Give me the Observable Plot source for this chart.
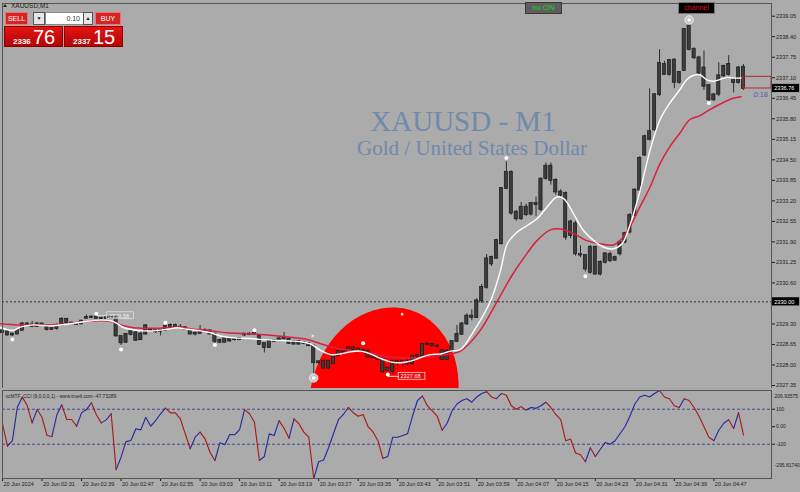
<!DOCTYPE html>
<html><head><meta charset="utf-8">
<script src="https://cdn.jsdelivr.net/npm/d3@7"></script>
<script src="https://cdn.jsdelivr.net/npm/@observablehq/plot@0.6"></script>
<style>
html,body{margin:0;padding:0}
body{width:800px;height:492px;background:#ababab;position:relative;overflow:hidden;font-family:'Liberation Sans',Arial,sans-serif}
#main{position:absolute;left:0;top:0;z-index:1}
#cci{position:absolute;left:0;top:388px;z-index:1}
#main svg,#cci svg{overflow:hidden !important;background:transparent !important}
.ttl{position:absolute;z-index:0;font-family:'Liberation Serif','DejaVu Serif',serif;color:#6f8aab;text-align:center;white-space:nowrap;line-height:1}
.w{position:absolute;z-index:3;box-sizing:border-box;font-family:'Liberation Sans',Arial,sans-serif;white-space:nowrap}
.hd{background:#d42424;border:1px solid #ee7272;color:#fff;font-size:7px;text-align:center;line-height:11px}
.arr{background:#e6e6e6;border:1px solid #555;font-size:5px;text-align:center;line-height:11px;color:#111}
.inp{background:#fff;border:1px solid #888;font-size:7px;text-align:right;line-height:11px;padding-right:3px;color:#333}
.blk{background:linear-gradient(#e41414,#b40404);border:1px solid #8a0000;color:#fff}
.blk .sm{position:absolute;left:8px;top:11px;font-size:8px;line-height:8px;font-weight:bold}
.blk .bg{position:absolute;left:28px;top:0;font-size:20px;line-height:21px}
#sym{position:absolute;left:11px;top:2px;font-size:6.5px;color:#222;z-index:3}
#tri{position:absolute;left:3px;top:4px;width:0;height:0;border-left:2.5px solid transparent;border-right:2.5px solid transparent;border-bottom:3.5px solid #222;z-index:3}
.btn{position:absolute;z-index:3;box-sizing:border-box;text-align:center;line-height:10px}
</style></head><body>
<div class="ttl" style="left:263px;top:107px;width:400px;font-size:29px;height:29px">XAUUSD - M1</div>
<div class="ttl" style="left:272px;top:138px;width:400px;font-size:21px;height:21px">Gold / United States Dollar</div>
<div id="main"></div>
<div id="cci"></div>
<div id="tri"></div><div id="sym">XAUUSD,M1</div>
<div class="w hd" style="left:5px;top:12px;width:23px;height:13px">SELL</div>
<div class="w arr" style="left:33px;top:12px;width:12px;height:13px">&#9660;</div>
<div class="w inp" style="left:45px;top:12px;width:39px;height:13px">0.10</div>
<div class="w arr" style="left:83px;top:12px;width:10px;height:13px">&#9650;</div>
<div class="w hd" style="left:95px;top:12px;width:26px;height:13px">BUY</div>
<div class="w blk" style="left:4px;top:26px;width:59px;height:21px"><span class="sm">2336</span><span class="bg">76</span></div>
<div class="w blk" style="left:64px;top:26px;width:59px;height:21px"><span class="sm">2337</span><span class="bg">15</span></div>
<div class="btn" style="left:525px;top:2px;width:37px;height:12px;background:#5e5e5e;border:1px solid #3a3a3a;color:#22cc22;font-size:8px">xu ON</div>
<div class="btn" style="left:678px;top:2px;width:37px;height:12px;background:#000;border:1px solid #777;color:#d41010;font-size:7px">channel</div>
<script>
// ---------- data ----------
const opens = [2329.08,2329.05,2328.95,2328.98,2329.10,2329.30,2329.27,2329.22,2329.30,2329.18,2329.12,2329.15,2329.26,2329.45,2329.33,2329.30,2329.30,2329.48,2329.50,2329.52,2329.48,2329.47,2329.50,2329.50,2328.90,2328.72,2328.97,2329.02,2328.80,2328.98,2329.10,2329.08,2329.07,2329.10,2329.22,2329.25,2329.20,2329.18,2329.10,2328.98,2329.00,2329.10,2329.08,2328.98,2328.78,2328.72,2328.83,2328.80,2328.80,2328.95,2328.98,2328.98,2328.90,2328.68,2328.55,2328.75,2328.78,2328.83,2328.82,2328.75,2328.66,2328.72,2328.68,2328.60,2328.10,2328.12,2327.90,2328.05,2328.30,2328.42,2328.45,2328.54,2328.50,2328.44,2328.44,2328.25,2328.22,2328.18,2327.90,2327.80,2328.10,2328.07,2328.10,2328.05,2328.28,2328.30,2328.65,2328.65,2328.60,2328.45,2328.18,2328.44,2328.74,2328.97,2329.30,2329.55,2329.50,2330.03,2330.46,2331.20,2331.38,2331.84,2333.59,2334.10,2332.84,2332.63,2333.00,2332.78,2333.11,2332.92,2333.91,2334.30,2333.85,2333.48,2333.43,2332.10,2332.47,2331.50,2331.47,2330.93,2331.73,2330.88,2331.25,2331.50,2331.32,2331.52,2331.89,2332.21,2332.74,2333.54,2334.65,2335.15,2335.45,2336.56,2337.52,2337.20,2337.66,2336.95,2337.33,2338.74,2337.99,2337.73,2337.41,2336.85,2336.40,2336.58,2337.16,2337.20,2337.04,2336.95,2337.43];
const highs = [2329.12,2329.08,2329.00,2329.12,2329.35,2329.35,2329.38,2329.35,2329.32,2329.22,2329.18,2329.30,2329.50,2329.47,2329.35,2329.33,2329.42,2329.58,2329.55,2329.58,2329.52,2329.52,2329.53,2329.55,2328.92,2329.00,2329.10,2329.05,2329.05,2329.28,2329.14,2329.12,2329.12,2329.30,2329.30,2329.30,2329.28,2329.20,2329.12,2329.05,2329.25,2329.14,2329.10,2329.00,2328.82,2328.85,2328.88,2328.84,2328.86,2329.00,2329.02,2329.05,2328.92,2328.70,2328.78,2328.80,2328.85,2329.03,2328.84,2328.78,2328.78,2328.74,2328.70,2328.62,2328.13,2328.14,2328.14,2328.33,2328.45,2328.48,2328.58,2328.58,2328.56,2328.50,2328.46,2328.35,2328.26,2328.20,2327.93,2328.10,2328.14,2328.12,2328.18,2328.30,2328.35,2328.68,2328.72,2328.68,2328.64,2328.48,2328.48,2328.75,2329.25,2329.35,2329.62,2329.75,2330.10,2330.55,2331.50,2331.45,2331.98,2333.62,2334.44,2334.15,2332.90,2333.15,2333.10,2333.15,2333.32,2333.92,2334.40,2334.40,2333.90,2333.55,2333.48,2332.58,2332.55,2331.78,2331.50,2331.78,2331.76,2331.30,2331.55,2331.58,2331.45,2331.89,2332.20,2332.80,2333.59,2334.60,2335.28,2336.75,2336.60,2337.99,2337.62,2337.68,2337.70,2337.30,2338.63,2338.80,2338.05,2337.78,2337.95,2336.88,2336.58,2337.58,2337.50,2337.80,2337.10,2337.46,2337.52];
const lows = [2328.98,2328.92,2328.90,2328.95,2329.08,2329.22,2329.18,2329.20,2329.22,2329.08,2329.10,2329.10,2329.24,2329.30,2329.28,2329.26,2329.28,2329.46,2329.47,2329.45,2329.44,2329.45,2329.46,2328.88,2328.62,2328.68,2328.92,2328.75,2328.78,2328.95,2329.05,2329.00,2328.92,2329.08,2329.18,2329.18,2329.15,2329.10,2328.95,2328.92,2328.98,2329.05,2328.95,2328.68,2328.68,2328.70,2328.72,2328.76,2328.78,2328.90,2328.93,2328.95,2328.62,2328.38,2328.53,2328.72,2328.75,2328.80,2328.65,2328.64,2328.64,2328.64,2328.58,2327.70,2328.03,2327.85,2327.85,2328.02,2328.28,2328.38,2328.43,2328.46,2328.40,2328.40,2328.22,2328.20,2328.14,2327.75,2327.78,2327.70,2327.95,2327.95,2327.95,2328.00,2328.25,2328.28,2328.60,2328.58,2328.55,2328.15,2328.15,2328.42,2328.72,2328.95,2329.25,2329.40,2329.48,2329.95,2330.40,2331.12,2331.35,2331.80,2333.55,2332.75,2332.55,2332.58,2332.70,2332.72,2332.70,2332.85,2333.85,2333.70,2333.38,2333.30,2331.95,2332.00,2331.45,2331.40,2330.95,2330.88,2330.85,2330.82,2331.20,2331.25,2331.28,2331.45,2331.84,2332.15,2332.70,2333.50,2334.60,2335.10,2335.40,2336.50,2337.18,2337.15,2336.75,2336.90,2337.30,2337.95,2337.68,2337.20,2336.70,2336.35,2336.35,2336.50,2337.10,2337.15,2336.62,2336.90,2336.70];
const closes = [2329.02,2328.95,2328.98,2329.10,2329.30,2329.27,2329.22,2329.30,2329.25,2329.12,2329.15,2329.26,2329.45,2329.35,2329.30,2329.28,2329.39,2329.50,2329.52,2329.48,2329.47,2329.50,2329.48,2328.92,2328.70,2328.97,2329.06,2328.78,2328.98,2329.24,2329.08,2329.05,2329.10,2329.22,2329.25,2329.20,2329.18,2329.13,2328.98,2329.00,2329.10,2329.08,2328.98,2328.75,2328.72,2328.83,2328.76,2328.80,2328.84,2328.98,2328.97,2329.00,2328.65,2328.55,2328.75,2328.78,2328.83,2328.88,2328.68,2328.66,2328.75,2328.68,2328.61,2328.07,2328.07,2327.90,2328.12,2328.30,2328.42,2328.45,2328.54,2328.50,2328.44,2328.46,2328.25,2328.23,2328.18,2327.78,2327.83,2328.10,2328.07,2328.10,2328.05,2328.27,2328.30,2328.65,2328.66,2328.61,2328.58,2328.18,2328.44,2328.74,2328.97,2329.30,2329.55,2329.50,2330.03,2330.46,2331.36,2331.41,2331.94,2333.59,2334.10,2332.81,2332.63,2333.00,2332.76,2333.11,2333.08,2333.89,2334.30,2333.85,2333.48,2333.38,2332.05,2332.53,2331.52,2331.48,2331.04,2331.73,2330.88,2331.25,2331.52,2331.30,2331.40,2331.89,2332.16,2332.74,2333.54,2334.54,2335.23,2335.39,2336.56,2337.55,2337.20,2337.64,2336.95,2337.27,2338.63,2337.99,2337.73,2337.25,2336.83,2336.40,2336.56,2337.16,2337.46,2337.52,2336.95,2337.41,2336.76];

const fastMaBars = [-0.4,2.3,3.6,6.3,9.7,13.1,16.5,19.8,21.9,22.9,24.6,26.6,28.6,30.6,33.3,35.4,37.4,40.1,42.1,44.1,46.8,50.2,52.2,55.6,58.3,60.3,62.3,64.4,66.4,68.4,70.4,72.5,74.5,76.5,78.5,80.6,82.6,84.6,86.6,88.7,90.7,92.7,95.5,98.8,100.8,102.2,104.2,106.2,108.2,110.2,112.2,113.6,115.6,117.6,119.7,121.7,123.7,125.4,127.1,129.1,131.1,133.1,135.1,137.1,138.5,139.8,141.2,142.5,143.9,145.2,146.6,147.9,149.5];
const fastMaValues = [2329.18,2329.10,2329.20,2329.27,2329.24,2329.29,2329.37,2329.42,2329.40,2329.34,2329.18,2329.11,2329.08,2329.08,2329.13,2329.18,2329.13,2329.08,2329.02,2328.92,2328.86,2328.84,2328.81,2328.78,2328.76,2328.74,2328.67,2328.46,2328.33,2328.35,2328.42,2328.44,2328.35,2328.21,2328.10,2328.07,2328.12,2328.23,2328.33,2328.35,2328.44,2328.49,2329.10,2330.03,2330.99,2331.84,2332.21,2332.42,2332.63,2333.00,2333.32,2333.27,2332.79,2332.26,2331.94,2331.73,2331.68,2331.84,2332.47,2333.54,2334.81,2335.77,2336.30,2336.72,2337.04,2337.17,2337.19,2337.04,2336.99,2337.04,2337.11,2337.09,2337.09];
const slowMaBars = [-0.4,3,6.3,9.7,13.1,16.5,19.8,21.9,24.6,26.6,30,33.3,36,38.7,41.4,45.5,50.2,53.6,57.6,61.7,64.4,67.1,70.4,73.8,77.2,80.6,83.9,87.3,90.7,92.7,96.5,100.2,102.9,105.6,108.2,110.9,113.0,115.6,118.3,121.0,123.7,125.0,127.0,129.0,131.1,133.1,135.1,137.1,139.1,141.1,143.1,145.2,147.9,149.5];
const slowMaValues = [2329.31,2329.27,2329.27,2329.27,2329.31,2329.37,2329.40,2329.38,2329.24,2329.18,2329.16,2329.18,2329.20,2329.13,2329.10,2329.02,2328.99,2328.95,2328.89,2328.81,2328.67,2328.55,2328.46,2328.39,2328.28,2328.23,2328.23,2328.28,2328.35,2328.44,2329.05,2330.03,2330.78,2331.41,2331.94,2332.28,2332.31,2332.16,2331.94,2331.84,2331.80,2331.94,2332.37,2333.00,2333.64,2334.38,2334.92,2335.34,2335.77,2335.89,2336.08,2336.26,2336.45,2336.50];

const fractalBars = [19,33,51,73,102,2,24,43,78,118,143];
const fractalPrices = [2329.62,2329.34,2329.10,2328.69,2334.56,2328.81,2328.49,2328.63,2327.70,2330.81,2336.30];
const ringBars = [63,139];
const ringPrices = [2327.59,2338.93];
const faintBars = [62.8,80.9];
const faintPrices = [2328.92,2329.61];
const labelBars = [19,78];
const labelDotPrices = [2329.62,2327.70];
const labelValues = [2329.58,2327.68];

const priceTicks = [2339.05,2338.40,2337.75,2337.10,2336.45,2335.80,2335.15,2334.50,2333.85,2333.20,2332.55,2331.90,2331.25,2330.60,2329.30,2328.65,2328.00,2327.35];
const timeLabelBars = [0,8,16,24,32,40,48,56,64,72,80,88,96,104,112,120,128,136,144];
const timeLabels = ["20 Jun 2024","20 Jun 02:31","20 Jun 02:39","20 Jun 02:47","20 Jun 02:55","20 Jun 03:03","20 Jun 03:11","20 Jun 03:19","20 Jun 03:27","20 Jun 03:35","20 Jun 03:43","20 Jun 03:51","20 Jun 03:59","20 Jun 04:07","20 Jun 04:15","20 Jun 04:23","20 Jun 04:31","20 Jun 04:39","20 Jun 04:47"];

const bidPrice = 2336.76;
const levelPrice = 2330.00;
const channelTop = 2337.13;
const channelBottom = 2336.76;
const timerText = "0:18";
// red ellipse object: centre bar / price, half sizes, tilt in degrees
const ellipseBar = 77.3, ellipsePrice = 2327.0, ellipseHalfBars = 14.8, ellipseHalfPrice = 2.85, ellipseTilt = 17;

const cciValues = [16,-111,-79,111,169,121,22,98,54,-50,-56,68,125,41,41,3,79,98,137,68,22,39,74,-245,-174,-85,-79,-12,-18,54,3,35,74,106,79,79,45,-41,-126,-60,-31,-69,-146,-193,-92,-103,-45,-46,-16,98,74,26,-193,-170,-41,-50,35,-9,-66,45,17,-31,-60,-295.8,-200,-190,-120,-40,40,70,110,80,60,70,0,-30,-80,-180,-170,-60,-60,-50,-40,60,150,175,120,90,60,-20,20,90,130,150,160,140,170,190,200,170,160,190,180,120,100,115,95,110,105,120,140,110,70,40,-80,-70,-150,-160,-200,-120,-170,-130,-90,-100,-80,-40,0,60,130,170,180,170,190,206.9,170,160,120,110,160,150,110,60,0,-60,-80,-20,20,40,-10,80,-47.73];
const cciTrend = [[0,"dn"],[1,"up"],[4,"dn"],[6,"up"],[7,"dn"],[10,"up"],[12,"dn"],[15,"up"],[18,"dn"],[20,"up"],[22,"dn"],[23,"up"],[33,"dn"],[38,"up"],[40,"dn"],[43,"up"],[49,"dn"],[52,"up"],[56,"dn"],[58,"up"],[59,"dn"],[63,"up"],[70,"dn"],[77,"up"],[85,"dn"],[89,"up"],[98,"dn"],[100,"up"],[101,"dn"],[106,"up"],[110,"dn"],[118,"up"],[119,"dn"],[120,"up"],[133,"dn"],[137,"up"],[138,"dn"],[144,"up"],[147,"dn"],[148,"up"],[149,"dn"]];
const cciTicks = [100,0,-100];
const cciRange = [-295.81740,206.93575];
const cciTitle = "xcMTF_CCI (9,0,0,0,1) - www.truetl.com -47.73289";

// ---------- build ----------
const xDomain = [0, (771 - 2) / 4.94];
const xEnd = xDomain[1];
const lastBar = closes.length - 1;
const candles = opens.map((o, i) => ({i, o, h: highs[i], l: lows[i], c: closes[i]}));
const fast = fastMaBars.map((b, k) => ({b, v: fastMaValues[k]}));
const slow = slowMaBars.map((b, k) => ({b, v: slowMaValues[k]}));
const fractals = fractalBars.map((b, k) => ({b, p: fractalPrices[k]}));
const rings = ringBars.map((b, k) => ({b, p: ringPrices[k]}));
const faint = faintBars.map((b, k) => ({b, p: faintPrices[k]}));
const levelLabels = labelBars.map((b, k) => ({b, p: labelDotPrices[k], v: labelValues[k]}));

function ellipseMark(index, scales) {
  const sx = scales.x, sy = scales.y;
  const cx = sx(ellipseBar), cy = sy(ellipsePrice);
  const rx = Math.abs(sx(ellipseBar + ellipseHalfBars) - cx);
  const ry = Math.abs(sy(ellipsePrice + ellipseHalfPrice) - cy);
  const el = document.createElementNS("http://www.w3.org/2000/svg", "ellipse");
  el.setAttribute("cx", cx); el.setAttribute("cy", cy);
  el.setAttribute("rx", rx); el.setAttribute("ry", ry);
  el.setAttribute("transform", `rotate(${ellipseTilt},${cx},${cy})`);
  el.setAttribute("fill", "#ff0000");
  return el;
}

const baseStyle = {background: "transparent", fontFamily: "'Liberation Sans', Arial, sans-serif", color: "#1e1e1e", overflow: "hidden"};

const mainPlot = Plot.plot({
  width: 800, height: 388,
  marginLeft: 2, marginRight: 29, marginTop: 3, marginBottom: 0,
  style: {...baseStyle, fontSize: "5.6px"},
  x: {domain: xDomain, axis: null},
  y: {domain: [2327.255, 2339.452], axis: "right", ticks: priceTicks, tickFormat: d => d.toFixed(2), tickSize: 3, tickPadding: 1.5, label: null},
  marks: [
    ellipseMark,
    Plot.ruleY([levelPrice], {stroke: "#1e1e1e", strokeDasharray: "2,2", strokeWidth: 0.9}),
    Plot.ruleX(candles, {x: "i", y1: "l", y2: "h", stroke: "#2c2c2c", strokeWidth: 1}),
    Plot.rect(candles, {x1: d => d.i - 0.33, x2: d => d.i + 0.33, y1: "o", y2: "c", fill: "#3c3c3c", stroke: "#121212", strokeWidth: 0.6, insetTop: -0.5, insetBottom: -0.5}),
    Plot.line(slow, {x: "b", y: "v", stroke: "#dc1f3c", strokeWidth: 1.5, curve: "catmull-rom"}),
    Plot.line(fast, {x: "b", y: "v", stroke: "#ffffff", strokeWidth: 1.4, curve: "catmull-rom"}),
    Plot.link(levelLabels, {x1: "b", x2: d => d.b + 2.2, y1: d => d.p - 0.06, y2: d => d.p - 0.06, stroke: "#e2e2e2", strokeWidth: 1}),
    Plot.rect(levelLabels, {x1: d => d.b + 2.2, x2: d => d.b + 7.6, y1: d => d.p + 0.05, y2: d => d.p - 0.17, fill: "none", stroke: "#e0e0e0", strokeWidth: 0.8}),
    Plot.text(levelLabels, {x: d => d.b + 2.55, y: d => d.p - 0.06, text: d => d.v.toFixed(2), textAnchor: "start", fill: "#f2f2f2", fontSize: 5.6}),
    Plot.dot(fractals, {x: "b", y: "p", r: 2, fill: "#ffffff"}),
    Plot.dot(rings, {x: "b", y: "p", r: 4.2, fill: "#c6c6c6", stroke: "#ececec", strokeWidth: 1}),
    Plot.dot(rings, {x: "b", y: "p", r: 1.8, fill: "#ffffff"}),
    Plot.dot(faint, {x: "b", y: "p", r: 1.3, fill: "#ffd8d8"}),
    Plot.rect([0], {x1: lastBar, x2: xEnd, y1: channelBottom, y2: channelTop, fill: "none", stroke: "#b02828", strokeWidth: 1}),
    Plot.text([timerText], {x: lastBar + 2, y: bidPrice, dy: 6, text: d => d, textAnchor: "start", fill: "#5560a8", fontSize: 7.5}),
    Plot.frame({stroke: "#555555"}),
    Plot.rect([bidPrice, levelPrice], {x1: xEnd + 0.2, x2: xEnd + 5.7, y1: d => d - 0.13, y2: d => d + 0.13, fill: "#000000"}),
    Plot.text([bidPrice, levelPrice], {x: xEnd + 0.55, y: d => d, text: d => d.toFixed(2), textAnchor: "start", fill: "#ffffff", fontSize: 5.6})
  ]
});
document.getElementById("main").appendChild(mainPlot);

const cciSeg = [];
cciTrend.forEach(([start, dir], r) => {
  const end = r + 1 < cciTrend.length ? cciTrend[r + 1][0] : cciValues.length - 1;
  for (let i = start; i <= end; i++) cciSeg.push({i, v: cciValues[i], run: r, dir});
});

const cciPlot = Plot.plot({
  width: 800, height: 104,
  marginLeft: 2, marginRight: 29, marginTop: 2, marginBottom: 14,
  style: {...baseStyle, fontSize: "5px"},
  x: {domain: xDomain, axis: "bottom", ticks: timeLabelBars, tickFormat: () => "", tickSize: 3, label: null},
  y: {domain: cciRange, axis: "right", ticks: cciTicks, tickFormat: d => d === 0 ? "0.00" : String(d), tickSize: 3, tickPadding: 1.5, label: null},
  marks: [
    Plot.ruleY([100, -100], {stroke: "#3a3a8c", strokeDasharray: "3,2", strokeWidth: 0.9}),
    Plot.line(cciSeg.filter(d => d.dir === "up"), {x: "i", y: "v", z: "run", stroke: "#2626a4", strokeWidth: 1.1}),
    Plot.line(cciSeg.filter(d => d.dir === "dn"), {x: "i", y: "v", z: "run", stroke: "#a81818", strokeWidth: 1.1}),
    Plot.text([cciTitle], {frameAnchor: "top-left", dx: 3, dy: 4, text: d => d, textAnchor: "start", fontSize: 4.9, fill: "#1e1e1e"}),
    Plot.text([cciRange[1]], {frameAnchor: "top-right", dx: 3, dy: 4, text: d => d.toFixed(5), textAnchor: "start", fontSize: 5, fill: "#1e1e1e"}),
    Plot.text([cciRange[0]], {frameAnchor: "bottom-right", dx: 3, dy: -12, text: d => d.toFixed(5), textAnchor: "start", fontSize: 5, fill: "#1e1e1e"}),
    Plot.text(timeLabelBars, {x: d => d, frameAnchor: "bottom", dy: 7, dx: 1, text: (d, k) => timeLabels[k], textAnchor: "start", fontSize: 5.5, fill: "#1e1e1e"}),
    Plot.frame({stroke: "#555555"})
  ]
});
document.getElementById("cci").appendChild(cciPlot);
</script>
</body></html>
